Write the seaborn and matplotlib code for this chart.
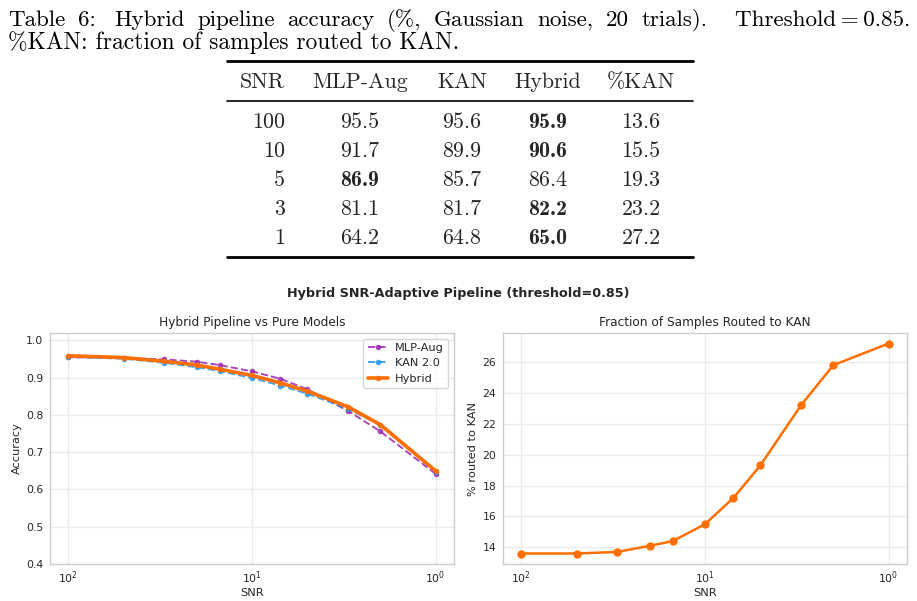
import numpy as np
import pandas as pd
import matplotlib
matplotlib.use("Agg")
import matplotlib.pyplot as plt
from matplotlib.lines import Line2D
import seaborn as sns

# ---------------- data ----------------
snr = [100, 50, 30, 20, 15, 10, 7, 5, 3, 2, 1]
acc_mlp = [0.955, 0.953, 0.949, 0.943, 0.934, 0.917, 0.897, 0.869, 0.811, 0.756, 0.642]
acc_kan = [0.956, 0.951, 0.940, 0.928, 0.918, 0.899, 0.879, 0.857, 0.817, 0.772, 0.648]
acc_hyb = [0.959, 0.954, 0.944, 0.934, 0.923, 0.906, 0.886, 0.864, 0.822, 0.774, 0.650]
pct_kan = [13.6, 13.6, 13.7, 14.1, 14.4, 15.5, 17.2, 19.3, 23.2, 25.8, 27.2]

tbl_header = ["SNR", "MLP-Aug", "KAN", "Hybrid", "%KAN"]
tbl_snr = ["100", "10", "5", "3", "1"]
tbl_mlp = ["95.5", "91.7", "86.9", "81.1", "64.2"]
tbl_kan = ["95.6", "89.9", "85.7", "81.7", "64.8"]
tbl_hyb = ["95.9", "90.6", "86.4", "82.2", "65.0"]
tbl_pct = ["13.6", "15.5", "19.3", "23.2", "27.2"]
tbl_bold = [(0, 3), (1, 3), (2, 1), (3, 3), (4, 3)]  # (row, col)

caption1_words = ["Table", "6:", "Hybrid", "pipeline", "accuracy", "(%,", "Gaussian", "noise,",
                  "20", "trials).", "Threshold\u2009=\u20090.85."]
caption2 = "%KAN: fraction of samples routed to KAN."

# ---------------- figure ----------------
sns.set_theme(style="whitegrid")
W, H = 917, 601
fig = plt.figure(figsize=(W / 100, H / 100), dpi=100)


def fx(px):
    return px / W


def fy(py):
    return 1 - py / H


serif = ["cmr10", "DejaVu Serif"]
serif_b = ["cmb10", "DejaVu Serif"]
CS1 = 16.6
CS2 = 16.9
TS = 15.8

# caption line 1, justified between x=8 and x=910
renderer = fig.canvas.get_renderer()
objs = []
for w in caption1_words:
    t = fig.text(0, fy(26), w, family=serif, fontsize=CS1, va="baseline", ha="left", color="black")
    objs.append(t)
widths = [t.get_window_extent(renderer).width for t in objs]
gap_w = []
for w in caption1_words[:-1]:
    if w.endswith(":"):
        gap_w.append(1.5)
    elif w.endswith(")."):
        gap_w.append(2.2)
    else:
        gap_w.append(1.0)
free = (910 - 8) - sum(widths)
unit = free / sum(gap_w)
x = 8.0
for k, t in enumerate(objs):
    t.set_x(fx(x))
    if k < len(gap_w):
        x += widths[k] + unit * gap_w[k]

fig.text(fx(8), fy(49), caption2, family=serif, fontsize=CS2, va="baseline", ha="left", color="black")

# table rules
for yy, lw in [(61, 2.0), (101, 1.2), (257, 2.0)]:
    fig.add_artist(Line2D([fx(227), fx(693)], [fy(yy), fy(yy)], color="black", lw=lw,
                          transform=fig.transFigure))

col_x = [285, 360, 462, 548, 641]
col_ha = ["right", "center", "center", "center", "center"]
fig.text(fx(285), fy(88), tbl_header[0], family=serif, fontsize=TS, va="baseline", ha="right")
for j in range(1, 5):
    fig.text(fx(col_x[j]), fy(88), tbl_header[j], family=serif, fontsize=TS, va="baseline", ha="center")

cols = [tbl_snr, tbl_mlp, tbl_kan, tbl_hyb, tbl_pct]
row_y = [128.5, 157.3, 186.1, 214.9, 243.7]
for i in range(5):
    for j in range(5):
        fam = serif_b if (i, j) in tbl_bold else serif
        fig.text(fx(col_x[j]), fy(row_y[i]), cols[j][i], family=fam, fontsize=TS,
                 va="baseline", ha=col_ha[j])

# ---------------- chart ----------------
sns.set_style("whitegrid", {"axes.edgecolor": ".8", "grid.color": ".92"})
plt.rcParams["font.family"] = ["DejaVu Sans"]

ax1 = fig.add_axes([fx(50), fy(564), fx(404), 231 / H])
ax2 = fig.add_axes([fx(503), fy(564), fx(404), 231 / H])

fig.text(0.5, fy(294), "Hybrid SNR-Adaptive Pipeline (threshold=0.85)", ha="center", va="center",
         fontsize=9.2, fontweight="bold", color=".15")

df = pd.DataFrame({"snr": snr, "mlp": acc_mlp, "kan": acc_kan, "hyb": acc_hyb, "pct": pct_kan})

ax1.set_xscale("log")
sns.lineplot(data=df, x="snr", y="mlp", ax=ax1, color="#9C27B0", alpha=0.85, linestyle="--",
             marker="o", markersize=4, markeredgewidth=0, linewidth=1.4, label="MLP-Aug")
sns.lineplot(data=df, x="snr", y="kan", ax=ax1, color="#2196F3", alpha=0.85, linestyle="--",
             marker="o", markersize=4, markeredgewidth=0, linewidth=1.4, label="KAN 2.0")
sns.lineplot(data=df, x="snr", y="hyb", ax=ax1, color="#FF6F00", linestyle="-",
             marker="o", markersize=4, markeredgewidth=0, linewidth=2.6, label="Hybrid")
ax1.set_ylim(0.4, 1.02)
ax1.invert_xaxis()
ax1.set_title("Hybrid Pipeline vs Pure Models", fontsize=8.7, color=".15", pad=5)
ax1.set_xlabel("SNR", fontsize=8.2, color=".15", labelpad=1)
ax1.set_ylabel("Accuracy", fontsize=8.2, color=".15", labelpad=3)
ax1.legend(loc="upper right", fontsize=8.2, frameon=True, framealpha=0.8, edgecolor=".8",
           handlelength=1.8, handletextpad=0.6, borderpad=0.4, labelspacing=0.45)

ax2.set_xscale("log")
sns.lineplot(data=df, x="snr", y="pct", ax=ax2, color="#FF6F00", linestyle="-",
             marker="o", markersize=6, markeredgewidth=0, linewidth=1.8)
ax2.invert_xaxis()
ax2.set_title("Fraction of Samples Routed to KAN", fontsize=8.7, color=".15", pad=5)
ax2.set_xlabel("SNR", fontsize=8.2, color=".15", labelpad=1)
ax2.set_ylabel("% routed to KAN", fontsize=8.2, color=".15", labelpad=3)

for ax in (ax1, ax2):
    ax.tick_params(axis="both", which="both", length=0, labelsize=7.8, colors=".15")
    ax.tick_params(axis="x", pad=4)
    ax.tick_params(axis="y", pad=5)
    for s in ax.spines.values():
        s.set_color(".8")
        s.set_linewidth(1.0)

fig.savefig("out.png", dpi=100)
